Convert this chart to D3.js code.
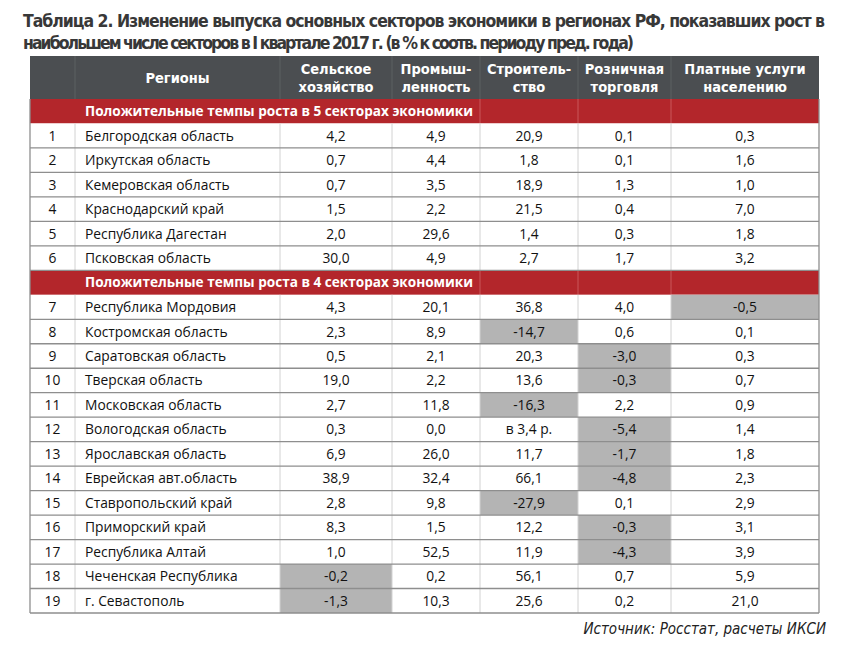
<!DOCTYPE html>
<html><head><meta charset="utf-8">
<script src="https://cdn.jsdelivr.net/npm/d3@7"></script>
<style>
html,body{margin:0;padding:0;background:#fff;}
svg{display:block;}
</style></head>
<body>
<svg id="chart" width="862" height="650"></svg>
<script>
// ---------- DATA ----------
const titleLines = [
  "Таблица 2. Изменение выпуска основных секторов экономики в регионах РФ, показавших рост в",
  "наибольшем числе секторов в I квартале 2017 г. (в % к соотв. периоду пред. года)"
];
const columnHeaders = [
  [""], ["Регионы"], ["Сельское","хозяйство"], ["Промыш-","ленность"],
  ["Строитель-","ство"], ["Розничная","торговля"], ["Платные услуги","населению"]
];
const groupTitles = [
  "Положительные темпы роста в 5 секторах экономики",
  "Положительные темпы роста в 4 секторах экономики"
];
const groupSizes = [6, 13];
const regions = [
  "Белгородская область","Иркутская область","Кемеровская область","Краснодарский край",
  "Республика Дагестан","Псковская область","Республика Мордовия","Костромская область",
  "Саратовская область","Тверская область","Московская область","Вологодская область",
  "Ярославская область","Еврейская авт.область","Ставропольский край","Приморский край",
  "Республика Алтай","Чеченская Республика","г. Севастополь"
];
const agriculture  = [4.2,0.7,0.7,1.5,2.0,30.0,4.3,2.3,0.5,19.0,2.7,0.3,6.9,38.9,2.8,8.3,1.0,-0.2,-1.3];
const industry     = [4.9,4.4,3.5,2.2,29.6,4.9,20.1,8.9,2.1,2.2,11.8,0.0,26.0,32.4,9.8,1.5,52.5,0.2,10.3];
const construction = [20.9,1.8,18.9,21.5,1.4,2.7,36.8,-14.7,20.3,13.6,-16.3,"в 3,4 р.",11.7,66.1,-27.9,12.2,11.9,56.1,25.6];
const retail       = [0.1,0.1,1.3,0.4,0.3,1.7,4.0,0.6,-3.0,-0.3,2.2,-5.4,-1.7,-4.8,0.1,-0.3,-4.3,0.7,0.2];
const services     = [0.3,1.6,1.0,7.0,1.8,3.2,-0.5,0.1,0.3,0.7,0.9,1.4,1.8,2.3,2.9,3.1,3.9,5.9,21.0];
const sourceText = "Источник: Росстат, расчеты ИКСИ";

// ---------- LAYOUT ----------
const colEdges = [30, 75, 280, 392, 480, 578, 671, 819];
const C = {header:"#4b4e51", red:"#b3262b", gray:"#b4b4b4", line:"#8e8e8e", vline:"#d2d2d2", text:"#111", title:"#383838"};
const condensed = "'Liberation Sans Narrow','Arial Narrow','DejaVu Sans Condensed',sans-serif";
const svg = d3.select("#chart");

// Title (justified)
const tEnds = [825, 634];
svg.selectAll("text.title").data(titleLines).join("text")
  .attr("class","title")
  .attr("x", 23).attr("y", (d,i)=> 27 + i*22)
  .attr("font-family", condensed).attr("font-weight","bold").attr("font-size", 17.5)
  .attr("fill", C.title)
  .attr("textLength", (d,i)=> tEnds[i]-23).attr("lengthAdjust","spacing")
  .text(d=>d);

// Build row sequence
const rows = [];
let idx = 0;
groupSizes.forEach((n,g)=>{
  rows.push({type:"group", label:groupTitles[g], key:"g"+g});
  for(let k=0;k<n;k++,idx++){
    rows.push({type:"data", i:idx, key:"r"+idx,
      cells:[idx+1, regions[idx], agriculture[idx], industry[idx], construction[idx], retail[idx], services[idx]]});
  }
});

const y = d3.scaleBand().domain(rows.map(r=>r.key)).range([99, 613]).paddingInner(0).paddingOuter(0);
const colX = d3.scaleOrdinal().domain(d3.range(7)).range(colEdges.slice(0,7));
const colW = d3.scaleOrdinal().domain(d3.range(7)).range(d3.range(7).map(i=>colEdges[i+1]-colEdges[i]));
const fmt = v => typeof v === "number" ? v.toFixed(1).replace(".", ",") : v;

// Header
const headTop = 56, headBot = 99;
svg.append("rect").attr("x",colEdges[0]).attr("y",headTop).attr("width",colEdges[7]-colEdges[0]).attr("height",headBot-headTop).attr("fill",C.header);
svg.selectAll("line.hsep").data(d3.range(1,7)).join("line").attr("class","hsep")
  .attr("x1",d=>colX(d)).attr("x2",d=>colX(d)).attr("y1",headTop).attr("y2",headBot)
  .attr("stroke","#5d6063").attr("stroke-width",1);
const hg = svg.selectAll("g.head").data(columnHeaders).join("g").attr("class","head");
hg.each(function(lines,ci){
  const cx = colX(ci) + colW(ci)/2;
  const cy = (headTop+headBot)/2;
  const n = lines.length;
  d3.select(this).selectAll("text").data(lines).join("text")
    .attr("x", cx).attr("y", (d,j)=> cy + (j-(n-1)/2)*18 + 5)
    .attr("text-anchor","middle")
    .attr("font-family", condensed).attr("font-weight","bold").attr("font-size",14.5)
    .attr("fill","#fff").text(d=>d);
});

// Rows
const rg = svg.selectAll("g.row").data(rows).join("g").attr("class","row")
  .attr("transform", d=>`translate(0,${y(d.key)})`);
const h = y.bandwidth();

rg.filter(d=>d.type==="group").each(function(d){
  const g = d3.select(this);
  g.append("rect").attr("x",colEdges[0]).attr("y",0).attr("width",colEdges[7]-colEdges[0]).attr("height",h).attr("fill",C.red);
  g.selectAll("line").data([4,5,6]).join("line")
    .attr("x1",c=>colX(c)).attr("x2",c=>colX(c)).attr("y1",0).attr("y2",h)
    .attr("stroke","#c9575a").attr("stroke-width",1);
  g.append("text").attr("x",85).attr("y",h/2+4.7)
    .attr("font-family","'Open Sans',sans-serif").attr("font-weight","bold").attr("font-size",13.6)
    .attr("fill","#fff").text(d.label);
});

rg.filter(d=>d.type==="data").each(function(d){
  const g = d3.select(this);
  g.append("rect").attr("x",colEdges[0]).attr("y",0).attr("width",colEdges[7]-colEdges[0]).attr("height",h).attr("fill","#fff");
  g.selectAll("rect.neg").data(d.cells.map((v,c)=>({v,c})).filter(o=>o.c>=2 && typeof o.v==="number" && o.v<0))
    .join("rect").attr("class","neg")
    .attr("x",o=>colX(o.c)).attr("y",0).attr("width",o=>colW(o.c)).attr("height",h).attr("fill",C.gray);
  g.selectAll("line.v").data(d3.range(1,7)).join("line").attr("class","v")
    .attr("x1",c=>colX(c)).attr("x2",c=>colX(c)).attr("y1",0).attr("y2",h)
    .attr("stroke",C.vline).attr("stroke-width",1);
  g.selectAll("text").data(d.cells.map((v,c)=>({v,c}))).join("text")
    .attr("x", o=> o.c===1 ? 85 : colX(o.c)+colW(o.c)/2)
    .attr("y", h/2+5)
    .attr("text-anchor", o=> o.c===1 ? "start" : "middle")
    .attr("font-family","'Open Sans',sans-serif").attr("font-size",13.8)
    .attr("fill",C.text)
    .text(o=> o.c<=1 ? o.v : fmt(o.v));
});

// horizontal row separators
svg.selectAll("line.rsep").data(rows.filter(r=>r.type==="data")).join("line").attr("class","rsep")
  .attr("x1",colEdges[0]).attr("x2",colEdges[7])
  .attr("y1",d=>y(d.key)+h).attr("y2",d=>y(d.key)+h)
  .attr("stroke",C.line).attr("stroke-width",1.3);
// outer borders
[colEdges[0], colEdges[7]].forEach(x=>{
  svg.append("line").attr("x1",x).attr("x2",x).attr("y1",headBot).attr("y2",613)
    .attr("stroke",C.line).attr("stroke-width",1.3);
});

// Source
svg.append("text").attr("x",826).attr("y",634).attr("text-anchor","end")
  .attr("font-family",condensed).attr("font-style","italic").attr("font-size",15)
  .attr("fill","#222").text(sourceText);
</script>
</body></html>
